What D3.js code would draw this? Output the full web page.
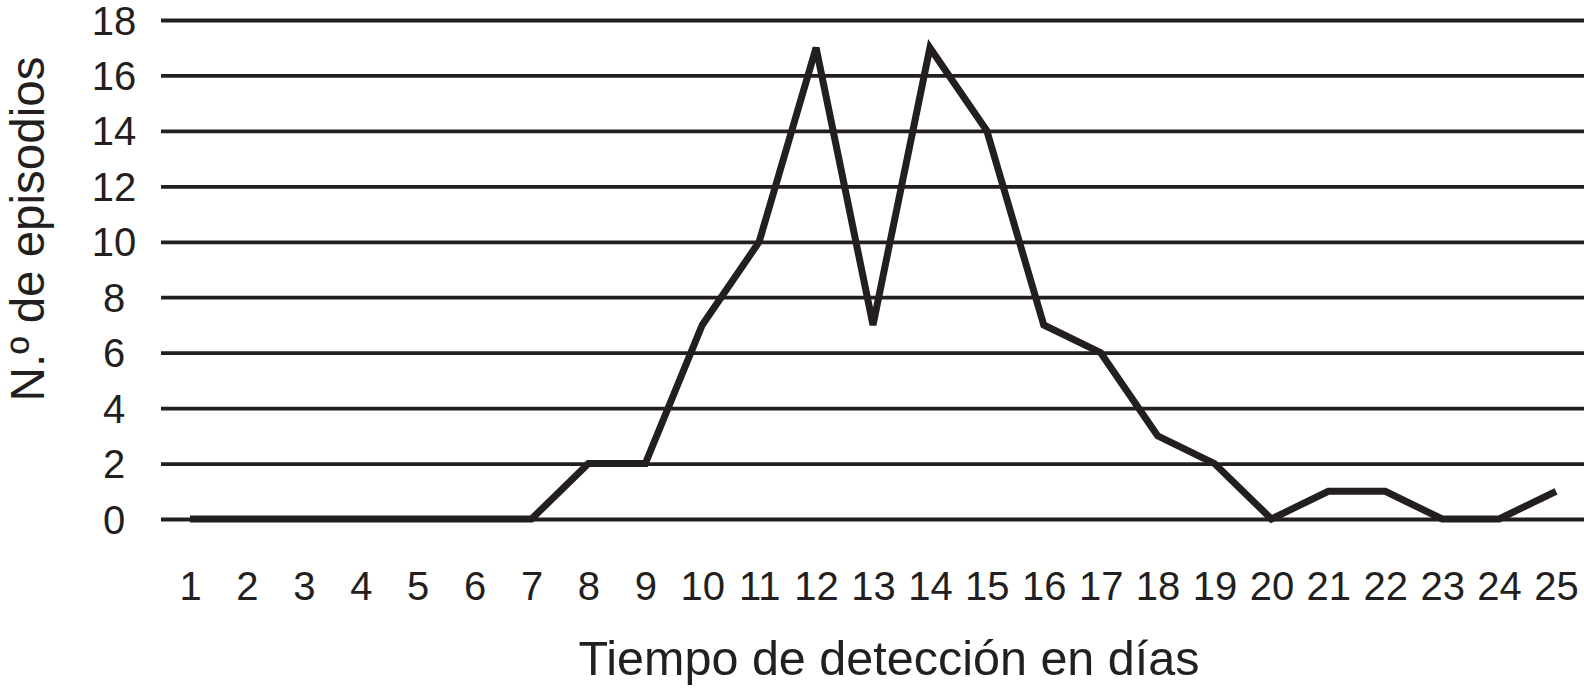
<!DOCTYPE html>
<html lang="es">
<head>
    <meta charset="UTF-8">
    <title>Tiempo de detección</title>
    <script src="https://d3js.org/d3.v7.min.js"></script>
    <style>
        body {
            margin: 0;
            background-color: #fff;
        }
        svg {
            display: block;
            font-family: "Liberation Sans", Arial, Helvetica, sans-serif;
        }
        .grid line {
            stroke: #231f20;
            stroke-width: 3.8px;
        }
        .tick text {
            fill: #231f20;
            font-size: 40px;
        }
        .series {
            fill: none;
            stroke: #231f20;
            stroke-width: 7px;
            stroke-linejoin: miter;
            stroke-linecap: butt;
        }
    </style>
</head>
<body>
    <svg id="chart"></svg>

    <script>
        // days on the x axis and number of episodes for each
        const days = [1, 2, 3, 4, 5, 6, 7, 8, 9, 10, 11, 12, 13, 14, 15, 16, 17, 18, 19, 20, 21, 22, 23, 24, 25];
        const episodes = [0, 0, 0, 0, 0, 0, 0, 2, 2, 7, 10, 17, 7, 17, 14, 7, 6, 3, 2, 0, 1, 1, 0, 0, 1];
        const yTicks = [0, 2, 4, 6, 8, 10, 12, 14, 16, 18];

        const xTitle = "Tiempo de detección en días";
        const yTitle = "N.º de episodios";

        const width = 1584;
        const height = 697;

        const svg = d3.select("#chart")
            .attr("width", width)
            .attr("height", height);

        // scales
        const x = d3.scaleLinear()
            .domain([1, 25])
            .range([190, 1556]);

        const y = d3.scaleLinear()
            .domain([0, 18])
            .range([519, 20]);

        const gridLeft = 161;

        // horizontal grid lines + y labels
        const yAxis = svg.append("g")
            .attr("class", "grid")
            .attr("transform", `translate(${gridLeft},0)`)
            .call(d3.axisLeft(y)
                .tickValues(yTicks)
                .tickSize(-(width - gridLeft))
                .tickFormat(d3.format("d")));

        yAxis.select(".domain").remove();
        yAxis.selectAll(".tick text")
            .attr("text-anchor", "middle")
            .attr("x", -47)
            .attr("dy", 14);

        // x labels, no ticks
        const xAxis = svg.append("g")
            .attr("transform", `translate(0,${y(0)})`)
            .call(d3.axisBottom(x)
                .tickValues(days)
                .tickSize(0)
                .tickFormat(d3.format("d")));

        xAxis.select(".domain").remove();
        xAxis.selectAll(".tick text")
            .attr("y", 81)
            .attr("dy", null);

        // the data line
        const line = d3.line()
            .x((d, i) => x(days[i]))
            .y(d => y(d));

        svg.append("path")
            .datum(episodes)
            .attr("class", "series")
            .attr("d", line);

        // axis titles
        svg.append("text")
            .attr("x", 889)
            .attr("y", 675)
            .attr("text-anchor", "middle")
            .style("font-size", "48.5px")
            .style("fill", "#231f20")
            .text(xTitle);

        svg.append("text")
            .attr("transform", "translate(44,229) rotate(-90)")
            .attr("text-anchor", "middle")
            .style("font-size", "47.5px")
            .style("fill", "#231f20")
            .text(yTitle);
    </script>
</body>
</html>
